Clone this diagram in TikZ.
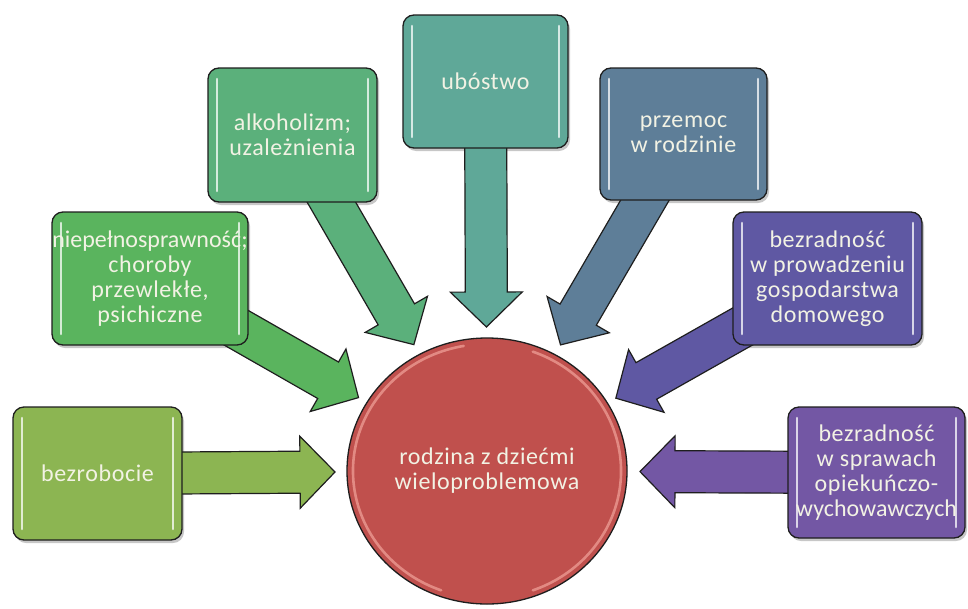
\documentclass[tikz,border=0pt]{standalone}
\usepackage{fontspec}
\setmainfont{Carlito}[LetterSpace=2.5]
\newfontfamily\tightfont{Carlito}
\usetikzlibrary{calc,shapes.geometric}

\definecolor{unempl}{HTML}{8CB552}
\definecolor{disab}{HTML}{5AB45E}
\definecolor{addict}{HTML}{5BB07B}
\definecolor{poverty}{HTML}{5FA898}
\definecolor{violence}{HTML}{5E7E98}
\definecolor{household}{HTML}{5F58A3}
\definecolor{care}{HTML}{7357A4}
\definecolor{hubred}{HTML}{C0504D}
\definecolor{hubshine}{HTML}{EE9E96}
\definecolor{outline}{HTML}{1E1E1E}
\definecolor{labeltext}{HTML}{F2F2E4}

\pgfdeclarelayer{bg}
\pgfdeclarelayer{shade}
\pgfdeclarelayer{arrows}
\pgfsetlayers{bg,shade,arrows,main}

\tikzset{
  gloss/.style={white, opacity=0.75, line width=2.6pt, line cap=round},
  causebox/.style={draw=outline, line width=1.3pt, fill=#1, rounded corners=11pt,
    inner sep=0pt, align=center, text=labeltext, font=\fontsize{24}{25}\selectfont,
    path picture={
      \draw[gloss] ([shift={(9pt,-11pt)}]path picture bounding box.north west)
                -- ([shift={(9pt,11pt)}]path picture bounding box.south west);
      \draw[gloss] ([shift={(-9pt,-11pt)}]path picture bounding box.north east)
                -- ([shift={(-9pt,11pt)}]path picture bounding box.south east);}},
  boxshadow/.style={fill=black, opacity=0.22, rounded corners=11pt, inner sep=0pt},
  hub/.style={ellipse, draw=outline, line width=1.3pt, fill=hubred, inner sep=0pt,
    minimum width=280pt, minimum height=266pt, align=center, text=labeltext,
    font=\fontsize{24}{25}\selectfont},
  hubgloss/.style={hubshine, opacity=0.75, line width=2.6pt, line cap=round},
  blockarrow/.style={draw=outline, line width=1.2pt, fill=#1, line join=miter},
}

% a rounded cause box with its soft shadow: name, centre, width, height, colour, label
\newcommand\causenode[6]{%
  \begin{pgfonlayer}{shade}
    \node[boxshadow, minimum width=#3pt, minimum height=#4pt] (#1-shadow)
      at ($(#2)+(2pt,-3pt)$) {};
  \end{pgfonlayer}
  \node[causebox=#5, minimum width=#3pt, minimum height=#4pt] (#1) at (#2) {#6};
}

% a block arrow from a cause box towards the hub: box name, tip distance from hub centre, colour
\newcommand\causearrow[3]{%
  \coordinate (#1-tip) at ($(hub.center)!#2pt!(#1.center)$);
  \coordinate (#1-neck) at ($(#1-tip)!35pt!(#1.center)$);
  \begin{pgfonlayer}{arrows}
    \draw[blockarrow=#3]
      ($(#1.center)!21pt!90:(#1-tip)$) --
      ($(#1-neck)!21pt!90:(#1-tip)$) --
      ($(#1-neck)!36pt!90:(#1-tip)$) --
      (#1-tip) --
      ($(#1-neck)!36pt!-90:(#1-tip)$) --
      ($(#1-neck)!21pt!-90:(#1-tip)$) --
      ($(#1.center)!21pt!-90:(#1-tip)$) -- cycle;
  \end{pgfonlayer}
}

\begin{document}
\begin{tikzpicture}[x=1pt,y=-1pt]
\useasboundingbox (0,0) rectangle (968,608);
\begin{pgfonlayer}{bg}
  \fill[white] (0,0) rectangle (968,608);
\end{pgfonlayer}

% central family node
\node[hub] (hub) at (487,471) {rodzina z dziećmi\\wieloproblemowa};
\draw[hubgloss] ($(hub.center)+(100:134pt and 127pt)$)
  arc[start angle=100, end angle=250, x radius=134pt, y radius=127pt];
\draw[hubgloss] ($(hub.center)+(-70:134pt and 127pt)$)
  arc[start angle=-70, end angle=70, x radius=134pt, y radius=127pt];

% cause boxes
\causenode{unemployment}{97.5,473.5}{169}{133}{unempl}{bezrobocie}
\causenode{disability}{150,278.5}{196}{133}{disab}{\tightfont niepełnosprawność;\\choroby\\przewlekłe,\\psichiczne}
\causenode{addiction}{292.5,135}{169}{134}{addict}{alkoholizm;\\uzależnienia}
\causenode{poverty}{485.5,81.5}{165}{133}{poverty}{ubóstwo}
\causenode{violence}{683.5,134}{167}{132}{violence}{przemoc\\w rodzinie}
\causenode{household}{827.5,278.5}{189}{133}{household}{bezradność\\w prowadzeniu\\gospodarstwa\\domowego}
\causenode{care}{876.5,472.5}{177}{131}{care}{bezradność\\w sprawach\\opiekuńczo-\\{\tightfont wychowawczych}}

% block arrows into the hub
\causearrow{unemployment}{152}{unempl}
\causearrow{disability}{148}{disab}
\causearrow{addiction}{146}{addict}
\causearrow{poverty}{144}{poverty}
\causearrow{violence}{146}{violence}
\causearrow{household}{148}{household}
\causearrow{care}{153}{care}
\end{tikzpicture}
\end{document}
